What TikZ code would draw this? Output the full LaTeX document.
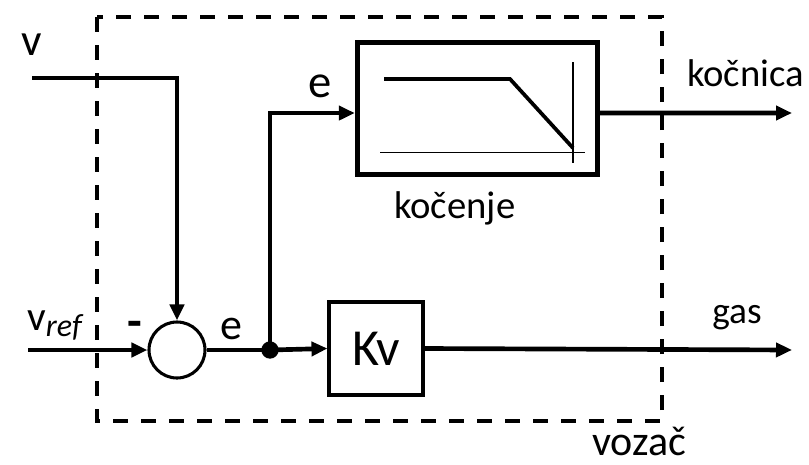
\documentclass[tikz,border=0pt]{standalone}
\usepackage{fontspec}
\setmainfont{Carlito}
\usetikzlibrary{arrows.meta}
\begin{document}
\begin{tikzpicture}[x=0.75pt,y=-0.75pt,
  conn/.style={line width=3.5pt,-{Triangle[length=12pt,width=10.5pt]}},
  wire/.style={line width=3.5pt},
  lbl/.style={inner sep=0pt,anchor=base west},
  sumnode/.style={circle,draw,line width=2.3pt,minimum size=42pt,inner sep=0pt},
  kvbox/.style={draw,line width=2.3pt,minimum width=70.5pt,minimum height=69.75pt,inner sep=0pt},
  kbox/.style={draw,line width=4pt,minimum width=180pt,minimum height=99pt,inner sep=0pt},
]
\useasboundingbox (0,0) rectangle (809,464);
% dashed driver box
\draw[line width=2.3pt,dash pattern=on 11pt off 10pt] (97,17) rectangle (662,421);
\node[lbl] (vozac) at (592,455) {\fontsize{31.5}{31.5}\selectfont vozač};

% blocks
\node[sumnode] (sum) at (177,350) {};
\node[kvbox] (kv) at (376,348.5) {\fontsize{39}{39}\selectfont Kv};
\node[kbox] (kb) at (477.5,108.5) {};
\node[lbl] (kblabel) at (394,218) {\fontsize{29}{29}\selectfont kočenje};

% graph inside braking block
\draw[line width=1.3pt] (380,152.5) -- (585,152.5);
\draw[line width=1.3pt] (573,62) -- (573,163);
\draw[line width=2.8pt,line join=miter] (384,79) -- (510,79) -- (573,148);

% coordinates
\coordinate (vin) at (32,78);
\coordinate (vrefin) at (28,350);
\coordinate (junc) at (270,350);
\coordinate (kout) at (792,113);
\coordinate (gasout) at (792,350);

% connectors
\draw[conn] (vin) -| (sum.north);
\draw[conn] (vrefin) -- (sum.west);
\draw[wire] (sum.east) -- (junc);
\draw[conn] (junc) -- (kv.west);
\draw[conn] (junc) |- ([yshift=-3.4pt]kb.west);
\draw[conn] ([yshift=-3.4pt]kb.east) -- (kout);
\draw[conn] (kv.east) -- (gasout);
\fill (junc) circle (6.5pt);

% labels
\node[lbl] (vlab) at (21,55) {\fontsize{34}{34}\selectfont v};
\node[lbl] (vreflab) at (27,330) {\fontsize{31}{31}\selectfont v\raisebox{-4.5pt}{\fontsize{24}{24}\selectfont\itshape ref}};
\node[lbl] (minus) at (127,337) {\fontsize{36}{36}\selectfont\bfseries -};
\node[lbl] (e1) at (220,339) {\fontsize{33}{33}\selectfont e};
\node[lbl] (e2) at (308,97) {\fontsize{35}{35}\selectfont e};
\node[lbl] (kocnica) at (687,86) {\fontsize{29}{29}\selectfont kočnica};
\node[lbl] (gas) at (712,323) {\fontsize{28}{28}\selectfont gas};
\end{tikzpicture}
\end{document}
